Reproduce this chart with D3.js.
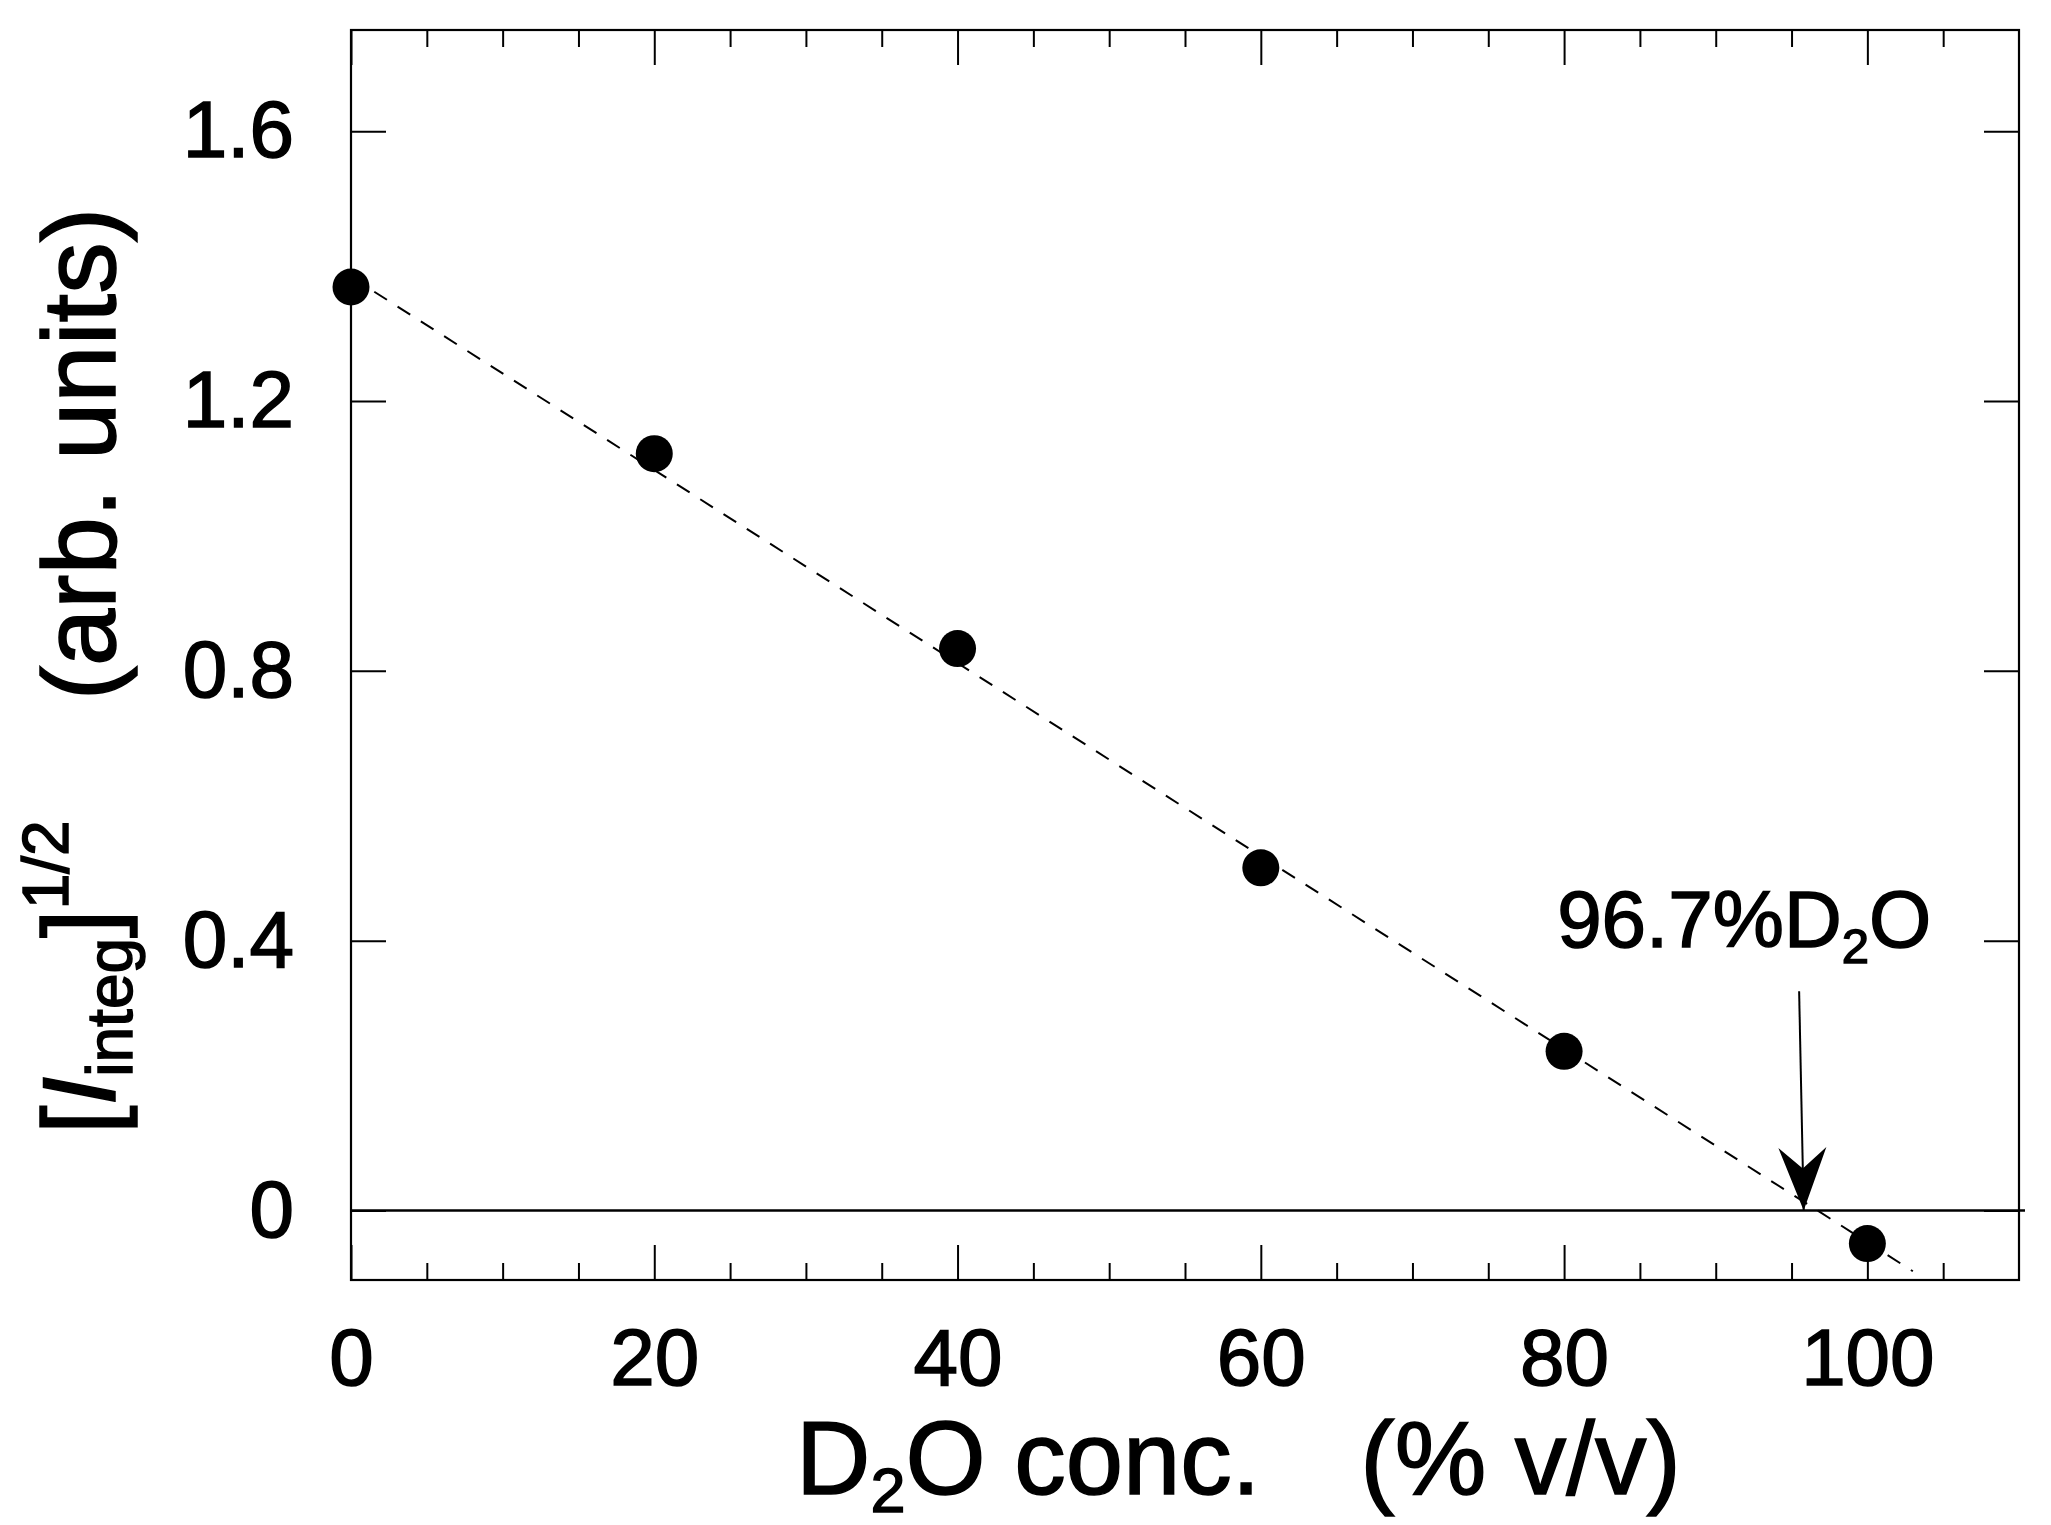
<!DOCTYPE html>
<html>
<head>
<meta charset="utf-8">
<script src="https://cdn.jsdelivr.net/npm/d3@7"></script>
<style>
    body { margin: 0; background: #fff; }
    svg { display: block; font-family: "Liberation Sans", Arial, Helvetica, sans-serif; }
    svg text { stroke: #000; stroke-width: 1.5px; }
</style>
</head>
<body>
<div id="chart"></div>
<script>
// D2O concentration (% v/v)
const concValues = [0, 20, 40, 60, 80, 100];
// [I_integ]^(1/2), arb. units
const sqrtIntensity = [1.369, 1.122, 0.833, 0.508, 0.236, -0.049];
// dashed linear fit, drawn between these two ends
const fitLine = [[0, 1.384], [103, -0.09]];
// arrow marking the zero crossing
const arrowPath = [[95.5, 0.325], [95.8, 0]];
const matchPointLabel = "96.7%";

const xMajorTicks = [0, 20, 40, 60, 80, 100];
const xMinorTicks = [5, 10, 15, 25, 30, 35, 45, 50, 55, 65, 70, 75, 85, 90, 95, 105];
const yTicks = [0, 0.4, 0.8, 1.2, 1.6];

document.addEventListener("DOMContentLoaded", () => {
    const width = 2051;
    const height = 1525;
    const plot = { left: 351, right: 2019, top: 30, bottom: 1280 };

    const svg = d3.select("#chart")
        .append("svg")
        .attr("width", width)
        .attr("height", height);

    const x = d3.scaleLinear().domain([0, 110]).range([plot.left, plot.right]);
    const y = d3.scaleLinear().domain([-0.103, 1.75]).range([plot.bottom, plot.top]);

    // axes: ticks point inward on all four sides
    const styleAxis = g => {
        g.select(".domain").remove();
        g.selectAll(".tick line").attr("stroke", "#000").attr("stroke-width", 2);
        g.selectAll("text").attr("fill", "#000").attr("font-size", 80);
    };

    svg.append("g")
        .attr("transform", `translate(0,${plot.bottom})`)
        .call(d3.axisBottom(x).tickValues(xMajorTicks).tickSize(-35).tickPadding(48).tickFormat(d3.format("d")))
        .call(styleAxis);
    svg.append("g")
        .attr("transform", `translate(0,${plot.bottom})`)
        .call(d3.axisBottom(x).tickValues(xMinorTicks).tickSize(-17).tickFormat(""))
        .call(styleAxis);
    svg.append("g")
        .attr("transform", `translate(0,${plot.top})`)
        .call(d3.axisTop(x).tickValues(xMajorTicks).tickSize(-35).tickFormat(""))
        .call(styleAxis);
    svg.append("g")
        .attr("transform", `translate(0,${plot.top})`)
        .call(d3.axisTop(x).tickValues(xMinorTicks).tickSize(-17).tickFormat(""))
        .call(styleAxis);
    svg.append("g")
        .attr("transform", `translate(${plot.left},0)`)
        .call(d3.axisLeft(y).tickValues(yTicks).tickSize(-35).tickPadding(57).tickFormat(d3.format("~g")))
        .call(styleAxis);
    svg.append("g")
        .attr("transform", `translate(${plot.right},0)`)
        .call(d3.axisRight(y).tickValues(yTicks).tickSize(-35).tickFormat(""))
        .call(styleAxis);

    // frame
    svg.append("rect")
        .attr("x", plot.left)
        .attr("y", plot.top)
        .attr("width", plot.right - plot.left)
        .attr("height", plot.bottom - plot.top)
        .attr("fill", "none")
        .attr("stroke", "#000")
        .attr("stroke-width", 2.2);

    // zero line, runs slightly past the right frame
    svg.append("line")
        .attr("x1", x(0))
        .attr("x2", x(110) + 6)
        .attr("y1", y(0))
        .attr("y2", y(0))
        .attr("stroke", "#000")
        .attr("stroke-width", 2.6);

    // dashed fit
    const line = d3.line().x(d => x(d[0])).y(d => y(d[1]));
    svg.append("path")
        .attr("d", line(fitLine))
        .attr("fill", "none")
        .attr("stroke", "#000")
        .attr("stroke-width", 2)
        .attr("stroke-dasharray", "15,12.6");

    // data points
    svg.append("g")
        .selectAll("circle")
        .data(concValues.map((c, i) => [c, sqrtIntensity[i]]))
        .join("circle")
        .attr("cx", d => x(d[0]))
        .attr("cy", d => y(d[1]))
        .attr("r", 18.5)
        .attr("fill", "#000");

    // arrow
    const [ax0, ay0] = [x(arrowPath[0][0]), y(arrowPath[0][1])];
    const [ax1, ay1] = [x(arrowPath[1][0]), y(arrowPath[1][1])];
    svg.append("path")
        .attr("d", line(arrowPath))
        .attr("stroke", "#000")
        .attr("stroke-width", 2);
    const len = Math.hypot(ax1 - ax0, ay1 - ay0);
    const ux = (ax1 - ax0) / len, uy = (ay1 - ay0) / len;
    const headLen = 63, headHalf = 24, notch = 42;
    const head = [
        [ax1, ay1],
        [ax1 - ux * headLen - uy * headHalf, ay1 - uy * headLen + ux * headHalf],
        [ax1 - ux * notch, ay1 - uy * notch],
        [ax1 - ux * headLen + uy * headHalf, ay1 - uy * headLen - ux * headHalf]
    ];
    svg.append("polygon")
        .attr("points", head.map(p => p.join(",")).join(" "))
        .attr("fill", "#000");

    // annotation text
    const note = svg.append("text")
        .attr("x", ax0 - 242)
        .attr("y", ay0 - 44)
        .attr("font-size", 80)
        .attr("fill", "#000");
    note.append("tspan").text(matchPointLabel + "D");
    note.append("tspan").attr("font-size", 49).attr("dy", 16).text("2");
    note.append("tspan").attr("dy", -16).text("O");

    // x axis title
    const xTitle = svg.append("text")
        .attr("x", 796)
        .attr("y", 1494)
        .attr("font-size", 103)
        .attr("fill", "#000");
    xTitle.append("tspan").text("D");
    xTitle.append("tspan").attr("font-size", 63).attr("dy", 18).text("2");
    xTitle.append("tspan").attr("dy", -18).text("O conc.");
    xTitle.append("tspan").attr("dx", 100).text("(% v/v)");

    // y axis title
    const yTitle = svg.append("text")
        .attr("transform", "rotate(-90)")
        .attr("x", -671)
        .attr("y", 115)
        .attr("text-anchor", "middle")
        .attr("font-size", 103)
        .attr("fill", "#000");
    yTitle.append("tspan").text("[");
    yTitle.append("tspan").attr("font-style", "italic").text("I");
    yTitle.append("tspan").attr("font-size", 64).attr("dy", 17).text("integ");
    yTitle.append("tspan").attr("dy", -17).text("]");
    yTitle.append("tspan").attr("font-size", 64).attr("dy", -47).text("1/2");
    yTitle.append("tspan").attr("dy", 47).attr("dx", 120).text("(arb. units)");
});
</script>
</body>
</html>
